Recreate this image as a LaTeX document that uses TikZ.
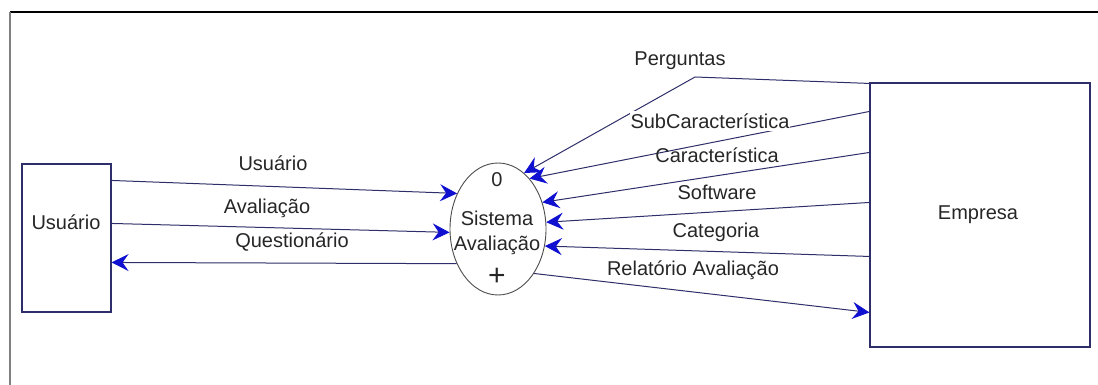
\documentclass[tikz,border=0pt]{standalone}
\usepackage{fontspec}
\setmainfont{Liberation Sans}
\usetikzlibrary{arrows.meta,shapes.geometric,calc}
\definecolor{flow}{HTML}{2E2E6A}
\definecolor{tipblue}{HTML}{1010D0}
\definecolor{framegray}{HTML}{808080}
\begin{document}
\begin{tikzpicture}[x=1pt,y=-1pt,
  txt/.style={font=\fontsize{20}{22}\selectfont, inner sep=1pt, text=black!85},
  entity/.style={draw=flow, line width=1.1pt, rectangle, inner sep=0pt},
  process/.style={draw=black!70, line width=0.9pt, ellipse, inner sep=0pt,
                  minimum width=96pt, minimum height=132pt},
  flowline/.style={draw=flow, line width=1pt,
                   -{Stealth[length=17pt,width=17pt,inset=6pt,line width=1pt,color=tipblue,fill=tipblue]}}]
\useasboundingbox (0,0) rectangle (1098,385);

% outer frame (top and left edges only)
\draw[black, line width=1.2pt] (10,12) -- (1098,12);
\draw[framegray, line width=1.5pt] (10,12) -- (10,385);

% external entities and the process
\node[entity, minimum width=89pt, minimum height=148pt] (usr) at (66.5,238) {};
\node[txt] (usrtxt) at (66,222) {Usuário};
\node[entity, minimum width=220pt, minimum height=264pt] (emp) at (980,215) {};
\node[txt] (emptxt) at (978,215) {Empresa};
\node[process] (proc) at (498,229) {};
\node[txt] (pnum) at (497,180) {0};
\node[txt] (pname1) at (497,218) {Sistema};
\node[txt] (pname2) at (497,245) {Avaliação};
\node[font=\fontsize{30}{30}\selectfont, inner sep=0pt, text=black!85] (pplus) at (497,277) {+};

% attachment points on the entity boxes
\coordinate (u1) at ($(usr.north east)+(0,17)$);
\coordinate (u2) at ($(usr.north east)+(0,60)$);
\coordinate (u3) at ($(usr.north east)+(0,99)$);
\coordinate (e1) at ($(emp.north west)+(0,1)$);
\coordinate (e2) at ($(emp.north west)+(0,29)$);
\coordinate (e3) at ($(emp.north west)+(0,70)$);
\coordinate (e4) at ($(emp.north west)+(0,120)$);
\coordinate (e5) at ($(emp.north west)+(0,174)$);
\coordinate (e6) at ($(emp.north west)+(0,230)$);
\coordinate (bend) at (695,77);

% data flows
\draw[flowline] (u1) -- (proc.139);
\draw[flowline] (u2) -- (proc.184);
\draw[flowline] (proc.220) -- (u3);
\draw[flowline] (e1) -- (bend) -- (proc.65);
\draw[flowline] (e2) -- (proc.58);
\draw[flowline] (e3) -- (proc.31);
\draw[flowline] (e4) -- (proc.8);
\draw[flowline] (e5) -- (proc.340);
\draw[flowline] (proc.309) -- (e6);

% flow labels
\node[txt] (lusr) at (273,163) {Usuário};
\node[txt] (laval) at (267,208) {Avaliação};
\node[txt] (lquest) at (292,242) {Questionário};
\node[txt] (lperg) at (680,61) {Perguntas};
\node[txt, fill=white, inner xsep=1pt, inner ysep=3pt] (lsub) at (710,121) {SubCaracterística};
\node[txt] (lcar) at (717,155) {Característica};
\node[txt] (lsoft) at (717,192) {Software};
\node[txt] (lcat) at (716,232) {Categoria};
\node[txt] (lrel) at (693,270) {Relatório Avaliação};
\end{tikzpicture}
\end{document}
